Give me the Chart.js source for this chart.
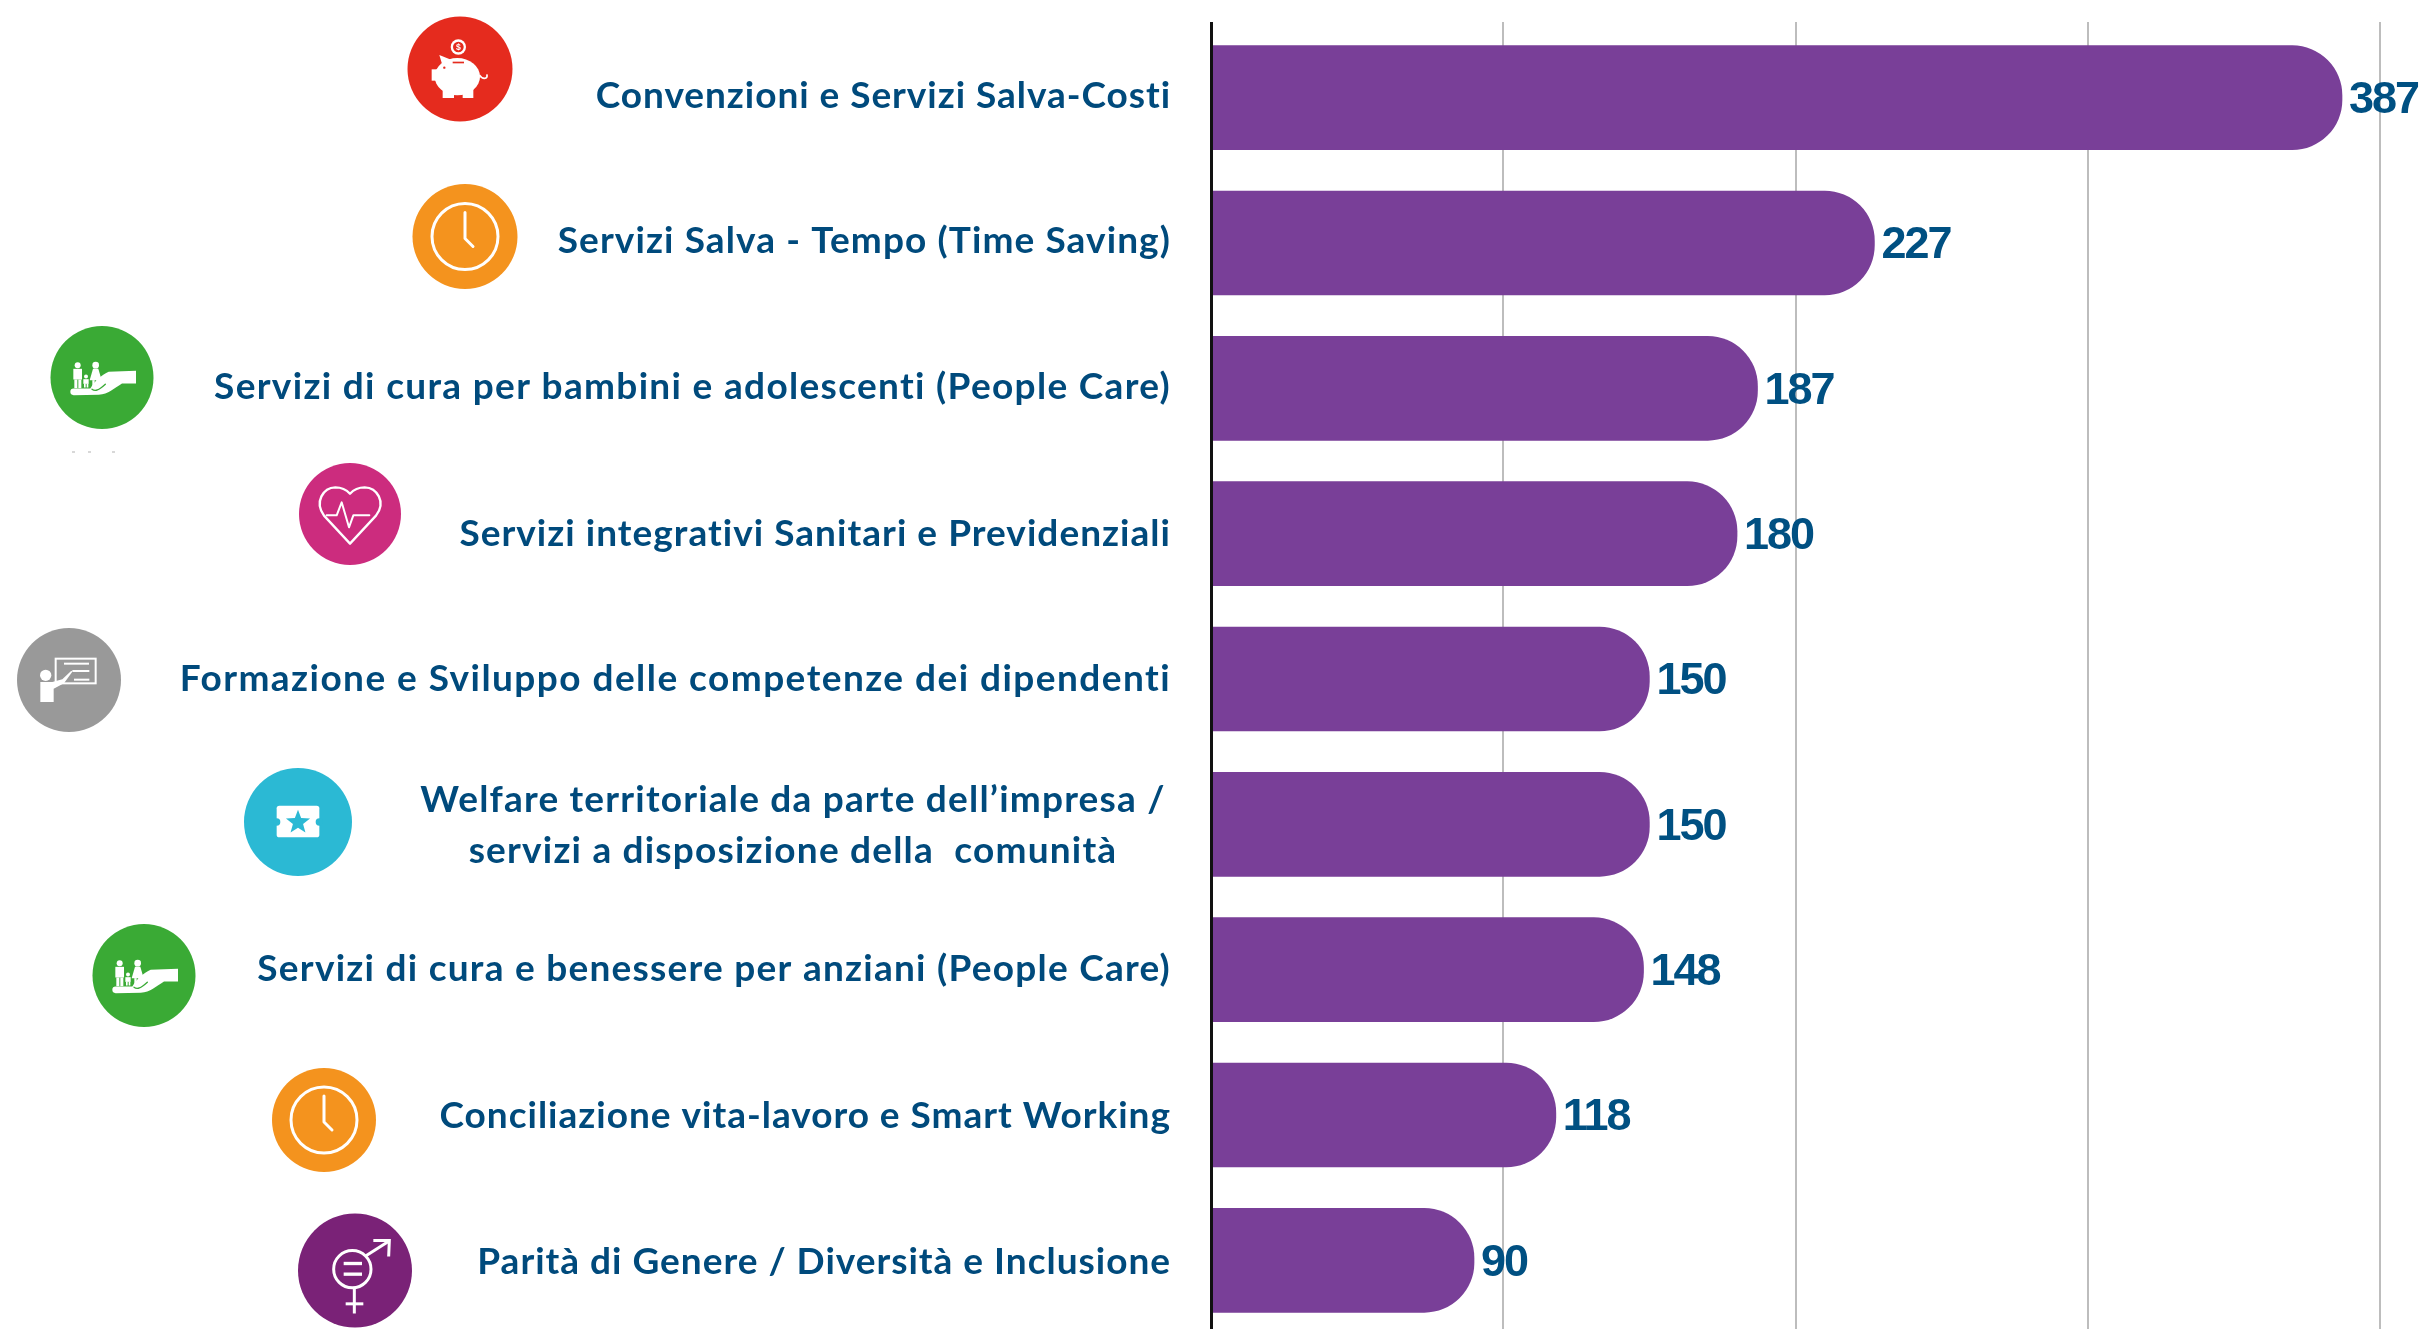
<!DOCTYPE html>
<html lang="it">
<head>
<meta charset="utf-8">
<title>Servizi di welfare</title>
<script src="https://cdn.jsdelivr.net/npm/chart.js@4"></script>
<style>
html,body{margin:0;padding:0;background:#fff;overflow:hidden}
#wrap{width:2422px;height:1329px;overflow:hidden}
canvas{display:block}
</style>
</head>
<body>
<div id="wrap"><canvas id="c" width="2422" height="1333"></canvas></div>
<script>
const categories = [
  "Convenzioni e Servizi Salva-Costi",
  "Servizi Salva - Tempo (Time Saving)",
  "Servizi di cura per bambini e adolescenti (People Care)",
  "Servizi integrativi Sanitari e Previdenziali",
  "Formazione e Sviluppo delle competenze dei dipendenti",
  ["Welfare territoriale da parte dell\u2019impresa /", "servizi a disposizione della  comunit\u00e0"],
  "Servizi di cura e benessere per anziani (People Care)",
  "Conciliazione vita-lavoro e Smart Working",
  "Parit\u00e0 di Genere / Diversit\u00e0 e Inclusione"
];
const values = [387, 227, 187, 180, 150, 150, 148, 118, 90];
const xTicks = [0, 100, 200, 300, 400];

const BAR = "#793f98", TEXT = "#004a7c", GRID = "#bdbdbd";
const labelDy = [10, 10, 10.5, 12.5, 11.5, 0, 11, 13, 13.5];
const labelTracking = [0.96, 1.1, 1.32, 1.03, 1.45, 1.2, 1.25, 0.99, 0.99];
const iconStyle = [
  {kind:"pig",   color:"#e52b1e", cx:460, cy:69,   r:52.5},
  {kind:"clock", color:"#f4931e", cx:465, cy:236.5,r:52.5},
  {kind:"hand",  color:"#3aaa35", cx:102, cy:377.5,r:51.5},
  {kind:"heart", color:"#cc2c7e", cx:350, cy:514,  r:51},
  {kind:"teach", color:"#999999", cx:69,  cy:680,  r:52},
  {kind:"ticket",color:"#2bb9d4", cx:298, cy:822,  r:54},
  {kind:"hand",  color:"#3aaa35", cx:144, cy:975.5,r:51.5},
  {kind:"clock", color:"#f4931e", cx:324, cy:1120, r:52},
  {kind:"gender",color:"#7a2277", cx:355, cy:1270.5,r:57}
];

function poly(c, pts){c.beginPath();pts.forEach((p,i)=>i?c.lineTo(p[0],p[1]):c.moveTo(p[0],p[1]));}
const glyphs = {
  pig(c, col){ // drawn on a 3x grid
    c.scale(1/3,1/3);c.translate(-180,-177);
    c.fillStyle="#fff";
    c.beginPath();c.arc(175,111,23,0,7);c.fill();
    c.fillStyle=col;c.beginPath();c.arc(175,111,16,0,7);c.fill();
    c.fillStyle="#fff";c.font="bold 26px 'Liberation Sans'";c.textAlign="center";c.textBaseline="middle";c.fillText("$",175,112);
    c.beginPath();c.ellipse(172,200,68,56,0,0,7);c.fill();
    poly(c,[[118,135],[155,150],[130,175]]);c.fill();
    c.fillRect(95,178,30,34);
    c.fillRect(128,228,34,36);c.fillRect(188,228,32,36);
    c.fillStyle=col;c.fillRect(158,155,34,5);
    c.beginPath();c.arc(133,173,3.5,0,7);c.fill();
    c.strokeStyle="#fff";c.lineWidth=5;c.beginPath();c.moveTo(238,195);c.bezierCurveTo(250,212,266,205,260,193);c.stroke();
  },
  clock(c){
    c.strokeStyle="#fff";c.lineWidth=3;c.lineCap="round";c.lineJoin="round";
    c.beginPath();c.arc(0,0,33,0,7);c.stroke();
    poly(c,[[0,-24],[0,2],[8,10]]);c.stroke();
  },
  hand(c, col){
    c.scale(1/3,1/3);c.translate(-185,-172);
    c.fillStyle="#fff";
    c.beginPath();c.moveTo(205,155);c.lineTo(287,152);c.lineTo(287,190);c.lineTo(245,190);
    c.bezierCurveTo(220,205,205,222,175,224);c.lineTo(100,225);c.arc(100,215,10,Math.PI/2,Math.PI*1.5);c.lineTo(150,205);
    c.bezierCurveTo(165,180,185,165,205,155);c.closePath();c.fill();
    c.strokeStyle=col;c.lineWidth=4;c.lineCap="round";
    c.beginPath();c.moveTo(155,207);c.bezierCurveTo(165,215,175,210,195,192);c.stroke();
    c.fillStyle="#fff";
    c.beginPath();c.arc(112,135,9,0,7);c.fill();
    c.fillRect(99,146,26,32);c.fillRect(102,178,9,26);c.fillRect(114,178,9,26);
    c.beginPath();c.arc(137,169,6,0,7);c.fill();
    c.fillRect(129,177,16,14);c.fillRect(131,190,5,12);c.fillRect(139,190,5,12);
    c.beginPath();c.arc(166,135,10,0,7);c.fill();
    poly(c,[[158,146],[174,146],[184,180],[148,180]]);c.closePath();c.fill();
    c.fillRect(156,180,7,20);c.fillRect(168,180,7,16);
  },
  heart(c){
    c.scale(1/3,1/3);c.translate(-180,-177);
    c.strokeStyle="#fff";c.lineWidth=7;c.lineJoin="round";c.lineCap="round";
    c.beginPath();c.moveTo(180,266);c.lineTo(102,182);c.bezierCurveTo(72,140,100,98,136,97);
    c.bezierCurveTo(155,97,170,105,180,116);c.bezierCurveTo(190,105,205,97,224,97);
    c.bezierCurveTo(260,98,290,140,258,182);c.closePath();c.stroke();
    c.lineWidth=6;
    poly(c,[[110,181],[140,181],[155,142],[177,217],[190,181],[238,181]]);c.stroke();
  },
  teach(c){
    c.scale(1/3,1/3);c.translate(-180,-180);
    c.strokeStyle="#fff";c.fillStyle="#fff";c.lineWidth=6;c.lineCap="round";
    c.strokeRect(140,116,120,74);
    c.lineCap="butt";
    poly(c,[[165,131],[240,131]]);c.stroke();
    poly(c,[[190,153],[241,153]]);c.stroke();
    poly(c,[[195,179],[241,179]]);c.stroke();
    c.beginPath();c.arc(110,166,17,0,7);c.fill();
    poly(c,[[94,186],[130,186],[160,178],[187,152],[190,155],[165,190],[134,206],[134,246],[94,246]]);c.closePath();c.fill();
  },
  ticket(c, col){
    c.scale(1/3,1/3);c.translate(-174,-172);
    c.fillStyle="#fff";
    c.beginPath();c.roundRect(110,123,128,95,8);c.fill();
    c.fillStyle=col;
    c.beginPath();c.arc(110,172,11,0,7);c.arc(238,172,11,0,7);c.fill();
    c.beginPath();
    for(let i=0;i<10;i++){const a=-Math.PI/2+i*Math.PI/5,r=i%2?16:38;c.lineTo(174+r*Math.cos(a),173+r*Math.sin(a));}
    c.closePath();c.fill();
  },
  gender(c){
    c.scale(1/3,1/3);c.translate(-180,-183);
    c.strokeStyle="#fff";c.fillStyle="#fff";c.lineWidth=9;
    c.beginPath();c.arc(172,179,56,0,7);c.stroke();
    poly(c,[[213,139],[279,97]]);c.stroke();
    poly(c,[[235,93],[283,93],[281,141]]);c.stroke();
    c.fillRect(146,157,55,10);c.fillRect(146,189,55,10);
    poly(c,[[178,235],[178,312]]);c.stroke();
    poly(c,[[152,283],[205,283]]);c.stroke();
  }
};

const decorations = {
  id:"decorations",
  afterDraw(chart){
    const c = chart.ctx, y = chart.scales.y, bars = chart.getDatasetMeta(0).data;
    c.save();
    // category labels
    c.fillStyle = TEXT; c.textBaseline = "alphabetic";
    c.font = "bold 37px Lato";
    categories.forEach((lab,i)=>{
      const py = y.getPixelForValue(i);
      c.letterSpacing = labelTracking[i] + "px";
      if(Array.isArray(lab)){
        c.textAlign = "center";
        c.fillText(lab[0], 793, py-12);
        c.fillText(lab[1], 793, py+39);
      } else {
        c.textAlign = "right";
        c.fillText(lab, 1171, py+labelDy[i]);
      }
    });
    // value labels
    c.font = "bold 45px 'Liberation Sans'"; c.letterSpacing = "-2px";
    c.textAlign = "left"; c.textBaseline = "middle";
    c.fillStyle = "#005082";
    values.forEach((v,i)=>c.fillText(String(v), bars[i].x+7, bars[i].y+3));
    c.letterSpacing = "0px";
    // icons
    iconStyle.forEach(ic=>{
      c.save();
      c.fillStyle = ic.color;
      c.beginPath(); c.arc(ic.cx, ic.cy, ic.r, 0, Math.PI*2); c.fill();
      c.translate(ic.cx, ic.cy);
      glyphs[ic.kind](c, ic.color);
      c.restore();
    });
    c.fillStyle = "#d8d8d8";
    [72,88,112].forEach(px=>c.fillRect(px,451,3,2));
    c.restore();
  }
};

new Chart(document.getElementById("c"), {
  type:"bar",
  data:{
    labels:categories,
    datasets:[{
      data:values,
      backgroundColor:BAR,
      barThickness:104,
      borderRadius:{topLeft:0,bottomLeft:0,topRight:50,bottomRight:50},
      borderSkipped:false
    }]
  },
  plugins:[decorations],
  options:{
    indexAxis:"y",
    responsive:false,
    animation:false,
    layout:{padding:{top:22,right:42,left:0,bottom:0}},
    plugins:{legend:{display:false},tooltip:{enabled:false},title:{display:false}},
    scales:{
      x:{
        position:"top",
        min:0,max:400,
        afterBuildTicks(s){ s.ticks = xTicks.map(v=>({value:v})); },
        ticks:{display:false},
        border:{display:false},
        grid:{
          color:ctx=>ctx.tick && ctx.tick.value===0 ? "#111" : GRID,
          tickColor:ctx=>ctx.tick && ctx.tick.value===0 ? "#111" : GRID,
          lineWidth:ctx=>ctx.tick && ctx.tick.value===0 ? 3 : 2,
          tickWidth:ctx=>ctx.tick && ctx.tick.value===0 ? 3 : 2,
          drawTicks:true,tickLength:3
        }
      },
      y:{
        afterFit(s){ s.width = 1211; },
        ticks:{display:false},
        grid:{display:false},
        border:{display:true,color:"#111",width:3,z:1}
      }
    }
  }
});
</script>
</body>
</html>
